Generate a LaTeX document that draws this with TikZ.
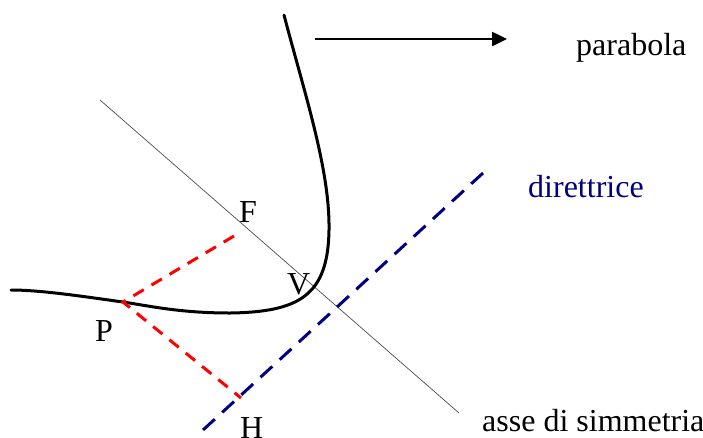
\documentclass[tikz,border=0pt]{standalone}
\usepackage{fontspec}
\setmainfont{Liberation Serif}
\usetikzlibrary{arrows.meta}
\definecolor{navyblue}{RGB}{0,0,128}
\begin{document}
\begin{tikzpicture}[x=1pt,y=-1pt,
  lbl/.style={inner sep=0pt,anchor=base west,font=\fontsize{32}{38}\selectfont},
  curve/.style={line width=3pt,line cap=round},
  axisline/.style={line width=0.7pt,black!70},
  reddash/.style={line width=3pt,red,dash pattern=on 12pt off 9pt},
  bluedash/.style={line width=3pt,navyblue,dash pattern=on 16pt off 10pt}]
\useasboundingbox (0,0) rectangle (703,437);
% coordinates
\coordinate (A1) at (100,100);
\coordinate (A2) at (459,413);
\coordinate (D1) at (203,430);
\coordinate (D2) at (483,173);
\coordinate (Fp) at (234,236);
\coordinate (Pp) at (123,302);
\coordinate (Hp) at (241,398);
\coordinate (R1) at (315,39);
\coordinate (R2) at (507,39);
% axis
\draw[axisline] (A1) -- (A2);
% directrix
\draw[bluedash] (D2) -- (D1);
% parabola
\draw[curve] (284,15) .. controls (305,95) and (330,170) .. (329,230)
  .. controls (328,295) and (300,312) .. (230,313)
  .. controls (180,313) and (150,306) .. (Pp)
  .. controls (80,296) and (40,290) .. (11,290);
% red segments
\draw[reddash] (Fp) -- (Pp) -- (Hp);
% arrow
\draw[line width=2.5pt,-{Triangle[length=15pt,width=14pt]}] (R1) -- (R2);
% labels
\node[lbl] (parab) at (576,55) {parabola};
\node[lbl,text=navyblue] (dir) at (528,197) {direttrice};
\node[lbl] (asse) at (482,431) {asse di simmetria};
\node[lbl] (F) at (239,222) {F};
\node[lbl] (V) at (287,294) {V};
\node[lbl] (P) at (95,341) {P};
\node[lbl] (H) at (240,438) {H};
\end{tikzpicture}
\end{document}
